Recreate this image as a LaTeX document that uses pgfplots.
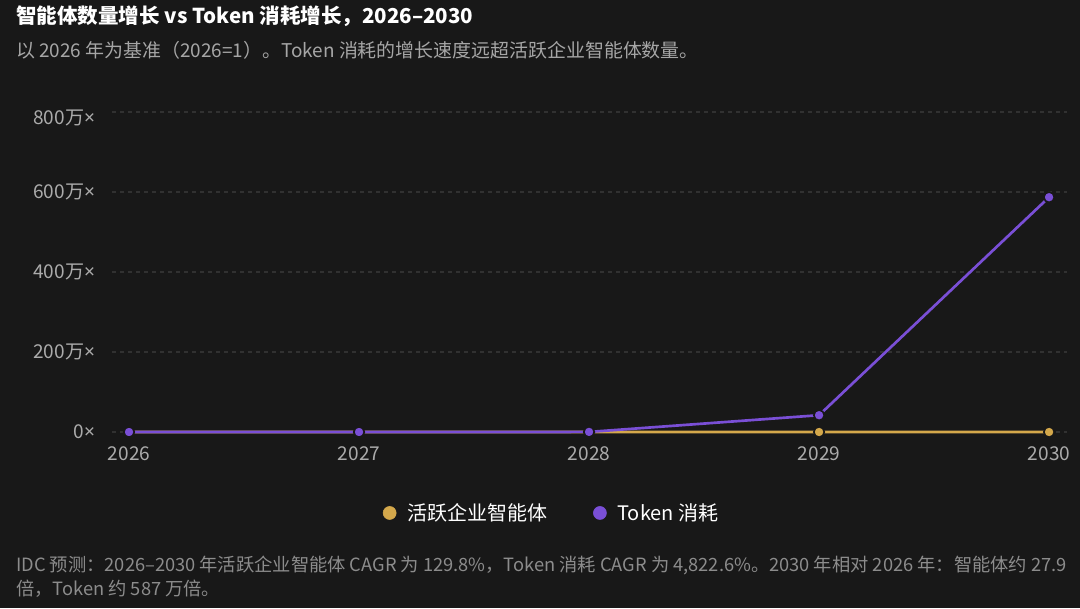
\documentclass[border=0pt]{standalone}
\usepackage{fontspec}
\setmainfont{Noto Sans CJK SC}
\newfontfamily\lat{Noto Sans}
\usepackage{pgfplots}
\pgfplotsset{compat=1.18}

\definecolor{bg}{HTML}{181818}
\definecolor{gold}{HTML}{D4A84B}
\definecolor{violet}{HTML}{7A4FD6}
\definecolor{gridc}{HTML}{313131}
\definecolor{tickc}{HTML}{ABABAB}
\definecolor{subc}{HTML}{A6A6A6}
\definecolor{notec}{HTML}{8C8C8C}

\newcommand{\x}{{\lat ×}}

\begin{document}
\begin{tikzpicture}
\fill[bg] (0,0) rectangle (810pt,456pt);
\useasboundingbox (0,0) rectangle (810pt,456pt);

\node[anchor=west, inner sep=0, text=white, font=\fontsize{15.4pt}{18pt}\selectfont\bfseries]
  at (12pt,444pt) {智能体数量增长 vs Token 消耗增长，2026–2030};
\node[anchor=west, inner sep=0, text=subc, font=\fontsize{14.2pt}{17pt}\selectfont]
  at (12pt,418.5pt) {以 2026 年为基准（2026=1）。Token 消耗的增长速度远超活跃企业智能体数量。};

\begin{axis}[
  at={(84pt,132pt)}, anchor=south west,
  scale only axis, width=716.25pt, height=240pt,
  xmin=2025.926, xmax=2030.078,
  ymin=0, ymax=8000000,
  clip=false,
  axis line style={draw=none},
  major tick length=0pt,
  xtick={2026,2027,2028,2029,2030},
  xticklabels={2026,2027,2028,2029,2030},
  ytick={0,2000000,4000000,6000000},
  yticklabels={0\x,200万\x,400万\x,600万\x},
  extra y ticks={8000000},
  extra y tick labels={800万\x},
  extra y tick style={yticklabel style={yshift=-4.5pt}},
  scaled y ticks=false,
  ymajorgrids,
  grid style={gridc, line width=0.8pt, dash pattern=on 3pt off 3pt},
  ticklabel style={text=tickc, font=\fontsize{14.3pt}{17pt}\selectfont, inner sep=0pt},
  xticklabel style={anchor=north, yshift=-11pt},
  yticklabel style={anchor=east, xshift=-12.5pt},
  legend columns=2,
  legend style={at={(0.4607,-0.253)}, anchor=center, draw=none, fill=none,
    text=white, font=\fontsize{15pt}{18pt}\selectfont,
    /tikz/every odd column/.append style={column sep=6pt},
    /tikz/every even column/.append style={column sep=32.5pt}},
  legend cell align=left,
]
\addlegendimage{legend image code/.code={\fill[gold] (0.2cm,0) circle (4.9pt);}}
\addlegendentry{活跃企业智能体}
\addlegendimage{legend image code/.code={\fill[violet] (0.2cm,0) circle (4.9pt);}}
\addlegendentry{Token 消耗}

\addplot[gold, line width=2pt, mark=*, mark size=3.9pt,
  mark options={fill=gold, draw=bg, line width=1.2pt}, forget plot]
  coordinates {(2026,1) (2027,2.3) (2028,5.3) (2029,12.2) (2030,27.9)};
\addplot[violet, line width=2pt, mark=*, mark size=3.9pt,
  mark options={fill=violet, draw=bg, line width=1.2pt}, forget plot]
  coordinates {(2026,1) (2027,50) (2028,2400) (2029,420000) (2030,5870000)};
\end{axis}

\node[anchor=west, inner sep=0, text=notec, font=\fontsize{13.7pt}{16pt}\selectfont]
  at (12pt,32.25pt) {IDC 预测：2026–2030 年活跃企业智能体 CAGR 为 129.8\%，Token 消耗 CAGR 为 4,822.6\%。2030 年相对 2026 年：智能体约 27.9};
\node[anchor=west, inner sep=0, text=notec, font=\fontsize{13.7pt}{16pt}\selectfont]
  at (12pt,14.25pt) {倍，Token 约 587 万倍。};
\end{tikzpicture}
\end{document}
